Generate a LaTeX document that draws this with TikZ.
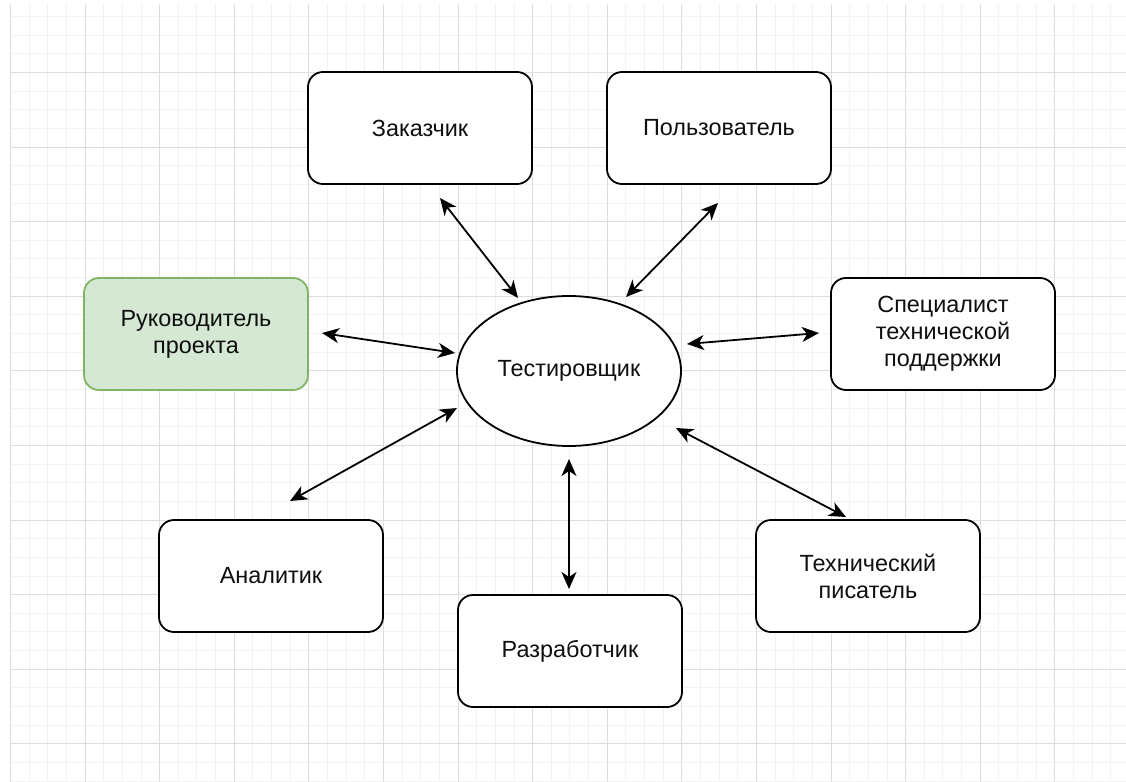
\documentclass[tikz,border=0pt]{standalone}
\usepackage{fontspec}
\setmainfont{Liberation Sans}
\usetikzlibrary{shapes.geometric,arrows.meta}
\definecolor{gridminor}{RGB}{242,242,242}
\definecolor{gridmajor}{RGB}{221,221,221}
\definecolor{leadfill}{RGB}{213,232,212}
\definecolor{leadline}{RGB}{130,179,102}
\definecolor{ink}{RGB}{15,15,15}
\begin{document}
\begin{tikzpicture}[x=1bp,y=-1bp,
  rolebox/.style={draw=black, line width=1.8bp, rounded corners=15bp, fill=white,
    minimum width=224bp, minimum height=112bp, inner sep=0pt, align=center,
    text=ink, font=\fontsize{23.5}{27}\selectfont},
  leadbox/.style={rolebox, fill=leadfill, draw=leadline},
  testerbox/.style={ellipse, draw=black, line width=1.8bp, fill=white,
    minimum width=224bp, minimum height=150bp, inner sep=0pt,
    text=ink, font=\fontsize{23.5}{27}\selectfont},
  link/.style={line width=1.8bp,
    {Stealth[length=17bp,width=15bp,inset=5bp]}-{Stealth[length=17bp,width=15bp,inset=5bp]}},
  minorline/.style={draw=gridminor, line width=1.5bp},
  majorline/.style={draw=gridmajor, line width=1.5bp}]

\useasboundingbox (0,0) rectangle (1126,782);
\fill[white] (0,0) rectangle (1126,782);

% background grid, snapped to whole pixels
\foreach \k in {0,...,59}
  \draw[minorline] ({round(10+18.65*\k)+0.5},4) -- ({round(10+18.65*\k)+0.5},782);
\foreach \k in {-3,...,38}
  \draw[minorline] (10,{round(72+18.65*\k)+0.5}) -- (1126,{round(72+18.65*\k)+0.5});
\foreach \k in {0,...,14}
  \draw[majorline] ({round(10+74.6*\k)+0.5},4) -- ({round(10+74.6*\k)+0.5},782);
\foreach \k in {0,...,9}
  \draw[majorline] (10,{round(72+74.6*\k)+0.5}) -- (1126,{round(72+74.6*\k)+0.5});

% roles
\node[testerbox] (tester) at (569,371) {Тестировщик};
\node[rolebox] (zak) at (420,128) {Заказчик};
\node[rolebox] (pol) at (719,128) {Пользователь};
\node[leadbox] (ruk) at (196,334) {Руководитель\\проекта};
\node[rolebox] (spe) at (943,334) {Специалист\\технической\\поддержки};
\node[rolebox] (ana) at (271,576) {Аналитик};
\node[rolebox] (raz) at (570,651) {Разработчик};
\node[rolebox] (tex) at (868,576) {Технический\\писатель};

% connector ends
\coordinate (zakA) at (440,198);
\coordinate (zakB) at (518,298);
\coordinate (polA) at (718,203);
\coordinate (polB) at (626,297);
\coordinate (rukA) at (322,333);
\coordinate (rukB) at (455,353);
\coordinate (speA) at (819,333);
\coordinate (speB) at (687,344);
\coordinate (anaA) at (290,501);
\coordinate (anaB) at (457,408);
\coordinate (razA) at (569,589);
\coordinate (razB) at (569,459);
\coordinate (texA) at (846,517);
\coordinate (texB) at (676,428);

% connectors
\draw[link] (zakA) -- (zakB);
\draw[link] (polA) -- (polB);
\draw[link] (rukA) -- (rukB);
\draw[link] (speA) -- (speB);
\draw[link] (anaA) -- (anaB);
\draw[link] (razA) -- (razB);
\draw[link] (texA) -- (texB);
\end{tikzpicture}
\end{document}
